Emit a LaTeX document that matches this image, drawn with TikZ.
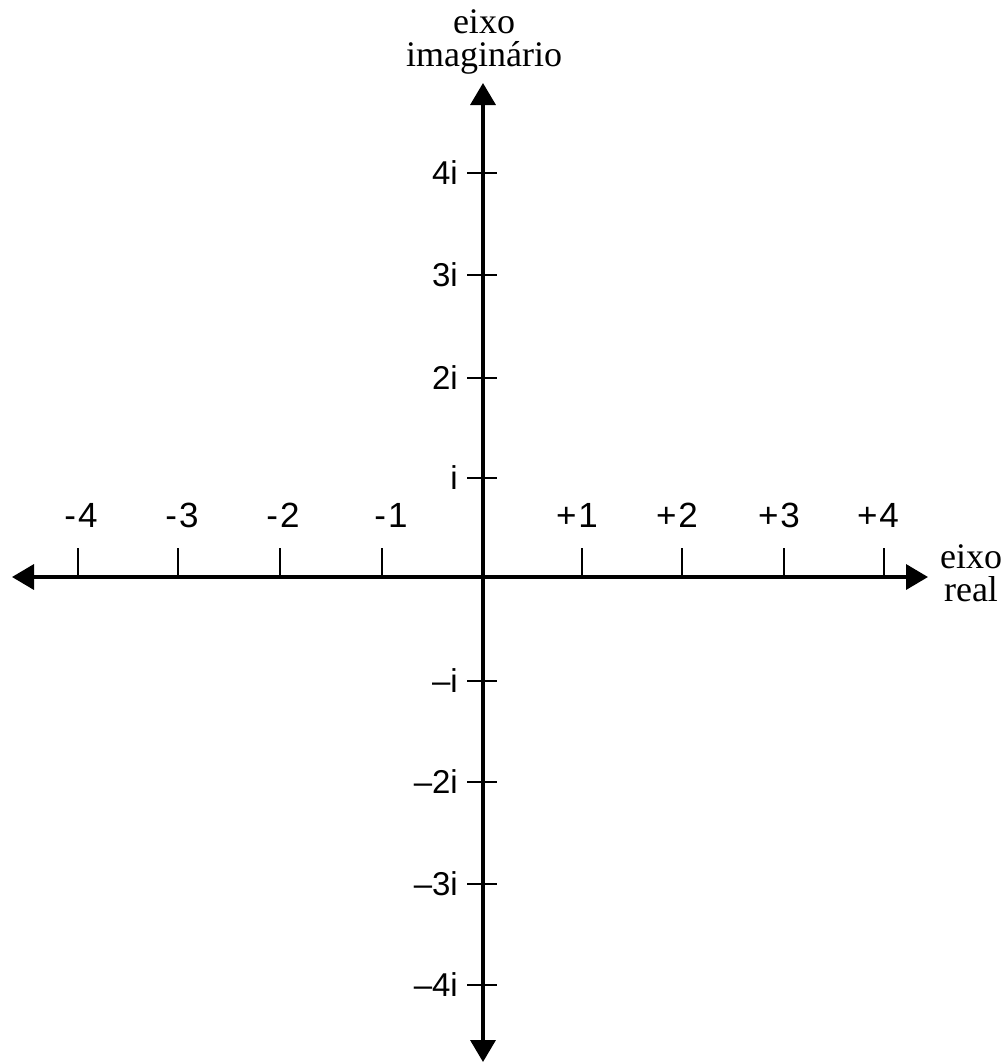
\documentclass[tikz,border=0pt]{standalone}
\usepackage{fontspec}
\setmainfont{Liberation Serif}
\newfontfamily\lblfont{Liberation Sans}
\usetikzlibrary{arrows.meta}
\begin{document}
\begin{tikzpicture}[x=1pt,y=-1pt,
  axisline/.style={line width=3.6pt,
    {Triangle[length=22pt,width=25pt]}-{Triangle[length=22pt,width=25pt]}},
  tickline/.style={line width=2.6pt},
  ticklbl/.style={font=\lblfont\fontsize{33}{33}\selectfont, inner sep=0pt},
  hlbl/.style={font=\lblfont\fontsize{35}{35}\selectfont, inner sep=0pt},
  axlbl/.style={font=\fontsize{36}{33}\selectfont, align=center, inner sep=0pt}]
\useasboundingbox (0,0) rectangle (1004,1063);
\coordinate (O) at (483,577);
\coordinate (L) at (12,577);
\coordinate (R) at (928,577);
\coordinate (T) at (483,83);
\coordinate (B) at (483,1062);
\draw[axisline] (L) -- (R);
\draw[axisline] (B) -- (T);
% horizontal ticks
\foreach \x/\s/\d/\dx [count=\n] in {78/-/4/3,178/-/3/4,280/-/2/3,382/-/1/9,582/+/1/-5,682/+/2/-5,784/+/3/-5,884/+/4/-6}{
  \coordinate (hb\n) at (\x,577);
  \coordinate (ht\n) at (\x,548);
  \draw[tickline] (hb\n) -- (ht\n);
  \node[hlbl] (hl\n) at (\x+\dx,515) {\s\kern2pt\d};
}
% vertical ticks
\foreach \y/\lab [count=\n] in {173/4i,275/3i,378/2i,478/i,681/–i,782/–2i,884/–3i,985/–4i}{
  \coordinate (vl\n) at (467,\y);
  \coordinate (vr\n) at (497,\y);
  \draw[tickline] (vl\n) -- (vr\n);
  \node[ticklbl, anchor=east] (vlab\n) at (458,\y) {\lab};
}
\node[axlbl] (imag) at (484,42) {eixo\\imaginário};
\node[axlbl] (real) at (971,573) {eixo\\real};
\end{tikzpicture}
\end{document}
